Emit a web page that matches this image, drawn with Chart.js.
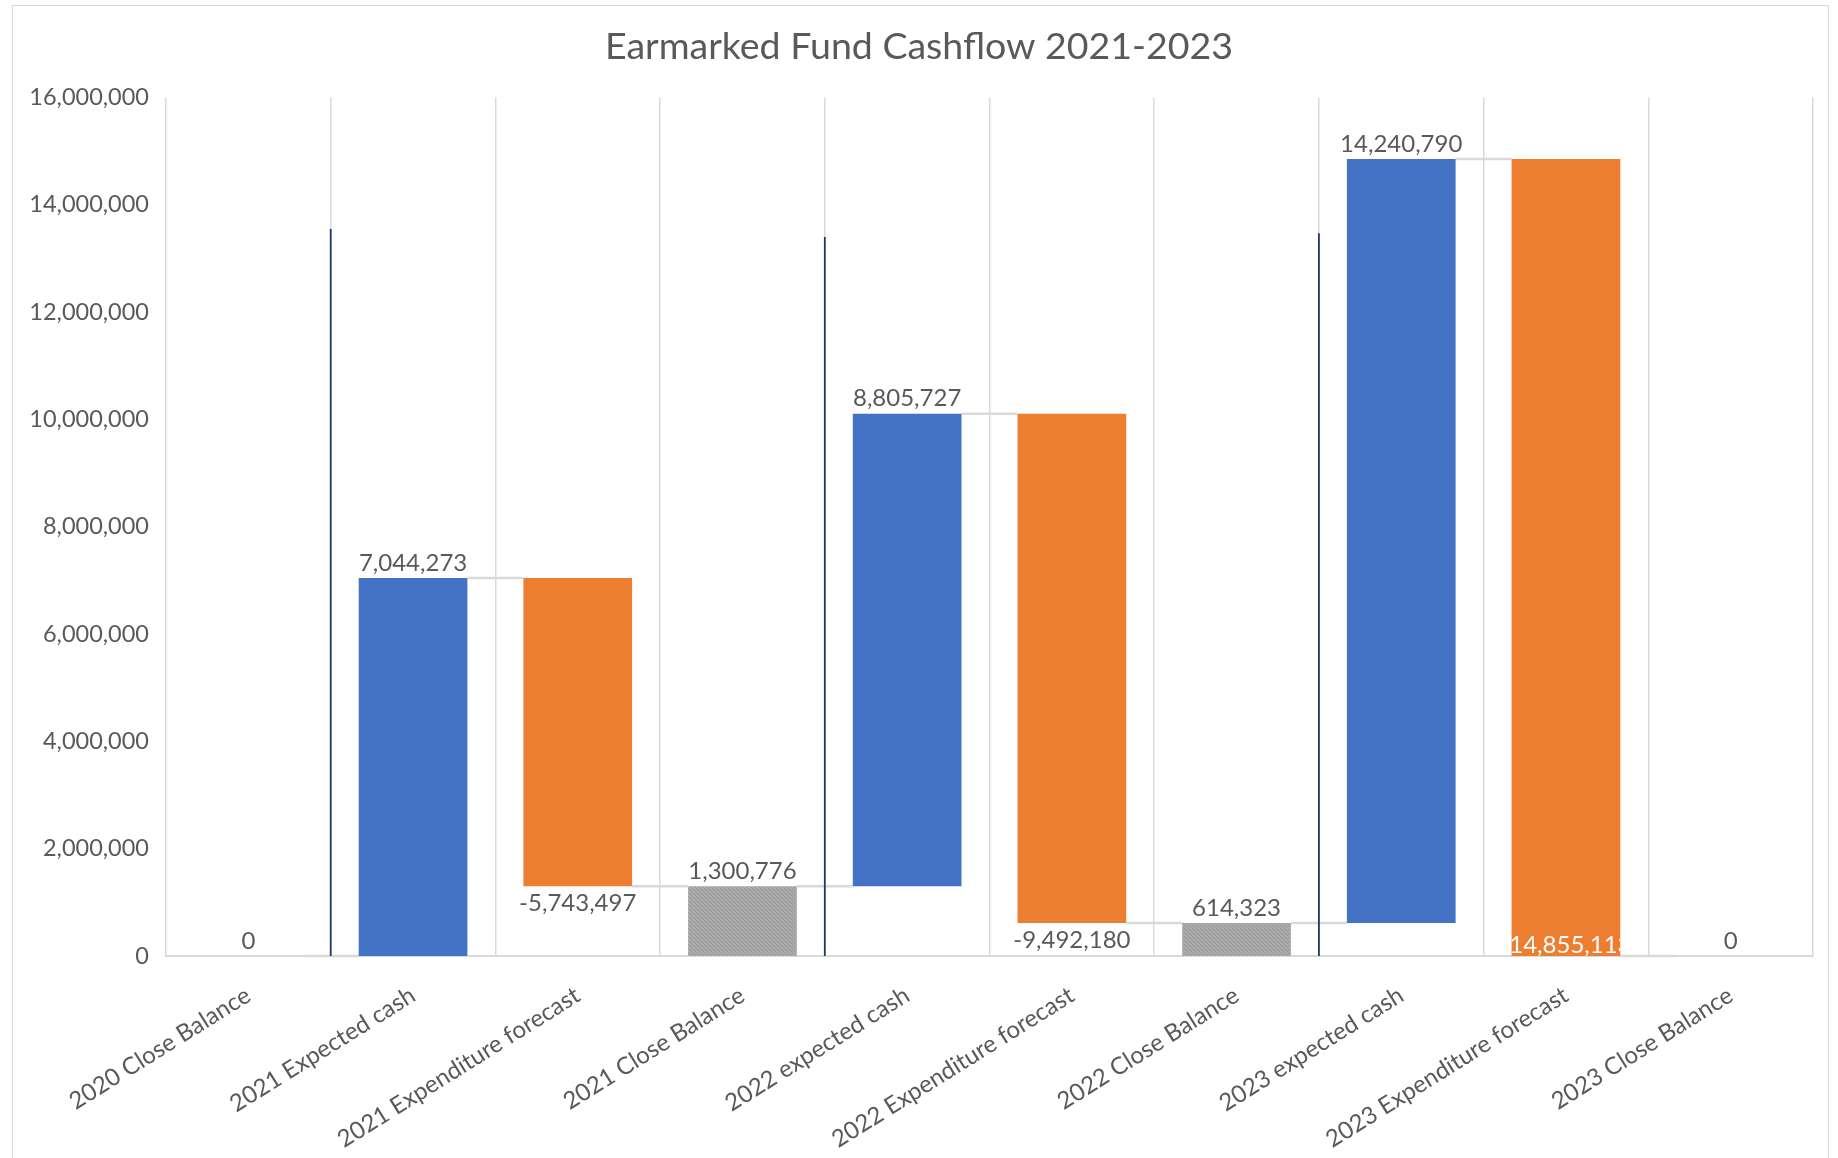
<!DOCTYPE html>
<html>
<head>
<meta charset="utf-8">
<script src="https://cdn.jsdelivr.net/npm/chart.js@4"></script>
<style>
  html, body { margin: 0; padding: 0; background: #ffffff; overflow: hidden; }
  #wrap { position: relative; width: 1838px; height: 1158px; }
  #frame { position: absolute; left: 12px; top: 5px; width: 1817px; height: 1170px; border: 1.5px solid #D9D9D9; box-sizing: border-box; pointer-events: none; }
  canvas { position: absolute; left: 0; top: 0; }
</style>
</head>
<body>
<div id="wrap">
  <canvas id="c" width="1838" height="1158"></canvas>
  <div id="frame"></div>
</div>
<script>
// ---- data ----
const chartTitle = 'Earmarked Fund Cashflow 2021-2023';
const categories = [
  '2020 Close Balance', '2021 Expected cash', '2021 Expenditure forecast', '2021 Close Balance',
  '2022 expected cash', '2022 Expenditure forecast', '2022 Close Balance',
  '2023 expected cash', '2023 Expenditure forecast', '2023 Close Balance'
];
const amounts = [0, 7044273, -5743497, 1300776, 8805727, -9492180, 614323, 14240790, -14855113, 0];
const barTypes = ['total', 'increase', 'decrease', 'total', 'increase', 'decrease', 'total', 'increase', 'decrease', 'total'];
const yMin = 0;
const yMax = 16000000;
const yStep = 2000000;
// dark vertical divider lines: placed after category index, reaching up to value
const dividerAfter = [0, 3, 6];
const dividerTop = [13550000, 13400000, 13470000];

// ---- derived floating ranges (waterfall) ----
let running = 0;
const ranges = amounts.map((v, i) => {
  if (barTypes[i] === 'total') { running = v; return [0, v]; }
  const start = running; running += v; return [start, running];
});
const levels = ranges.map(r => r[1]);

const colorFor = { increase: '#4472C4', decrease: '#ED7D31', total: '#A5A5A5' };
const textColor = '#595959';
const FONT = 'Lato, "Open Sans", sans-serif';

function grayPattern() {
  const pc = document.createElement('canvas');
  pc.width = 4; pc.height = 4;
  const g = pc.getContext('2d');
  g.fillStyle = '#A6A6A6'; g.fillRect(0, 0, 4, 4);
  g.fillStyle = '#9C9C9C';
  g.fillRect(0, 0, 1, 1); g.fillRect(2, 1, 1, 1); g.fillRect(1, 2, 1, 1); g.fillRect(3, 3, 1, 1);
  g.fillStyle = '#B0B0B0';
  g.fillRect(2, 0, 1, 1); g.fillRect(0, 3, 1, 1); g.fillRect(3, 1, 1, 1); g.fillRect(1, 3, 1, 1);
  return document.getElementById('c').getContext('2d').createPattern(pc, 'repeat');
}
const pat = grayPattern();
const barColors = barTypes.map(t => t === 'total' ? pat : colorFor[t]);

const fmt = v => v.toLocaleString('en-US');

const waterfallPlugin = {
  id: 'waterfall',
  beforeDatasetsDraw(chart) {
    const { ctx, scales: { x, y } } = chart;
    const bars = chart.getDatasetMeta(0).data;
    ctx.save();
    // connectors
    ctx.strokeStyle = '#D9D9D9';
    ctx.lineWidth = 2.5;
    for (let i = 0; i < bars.length - 1; i++) {
      const py = y.getPixelForValue(levels[i]);
      const x1 = bars[i].x + bars[i].width / 2;
      const x2 = bars[i + 1].x - bars[i + 1].width / 2;
      ctx.beginPath(); ctx.moveTo(x1, py); ctx.lineTo(x2, py); ctx.stroke();
    }
    // dark dividers
    ctx.strokeStyle = '#1F3864';
    ctx.lineWidth = 1.8;
    dividerAfter.forEach((idx, k) => {
      const px = (x.getPixelForValue(idx) + x.getPixelForValue(idx + 1)) / 2;
      ctx.beginPath();
      ctx.moveTo(px, y.getPixelForValue(0));
      ctx.lineTo(px, y.getPixelForValue(dividerTop[k]));
      ctx.stroke();
    });
    ctx.restore();
  },
  afterDatasetsDraw(chart) {
    const { ctx, scales: { y } } = chart;
    const bars = chart.getDatasetMeta(0).data;
    ctx.save();
    ctx.font = '24px ' + FONT;
    ctx.textAlign = 'center';
    const zeroPx = y.getPixelForValue(0);
    bars.forEach((b, i) => {
      const top = Math.min(b.y, b.base);
      const bottom = Math.max(b.y, b.base);
      const txt = fmt(amounts[i]);
      if (barTypes[i] === 'decrease') {
        if (Math.abs(bottom - zeroPx) < 2) {
          // inside, at bottom, white, clipped to the bar
          ctx.save();
          ctx.beginPath();
          ctx.rect(b.x - b.width / 2, top, b.width, bottom - top);
          ctx.clip();
          ctx.fillStyle = '#FFFFFF';
          ctx.textBaseline = 'bottom';
          ctx.fillText(txt, b.x, bottom + 1);
          ctx.restore();
        } else {
          ctx.fillStyle = textColor;
          ctx.textBaseline = 'top';
          ctx.fillText(txt, b.x, bottom + 5);
        }
      } else {
        ctx.fillStyle = textColor;
        ctx.textBaseline = 'bottom';
        ctx.fillText(txt, b.x, top - 3);
      }
    });
    ctx.restore();
  }
};

new Chart(document.getElementById('c'), {
  type: 'bar',
  data: {
    labels: categories,
    datasets: [{
      data: ranges,
      backgroundColor: barColors,
      borderWidth: 0,
      barPercentage: 0.66,
      categoryPercentage: 1.0
    }]
  },
  options: {
    responsive: false,
    animation: false,
    devicePixelRatio: 1,
    layout: { padding: { left: 25, right: 25, top: 0, bottom: 0 } },
    plugins: {
      legend: { display: false },
      tooltip: { enabled: false },
      title: {
        display: true,
        text: chartTitle,
        color: textColor,
        font: { family: FONT, size: 37.5, weight: 'normal', lineHeight: 1.2 },
        padding: { top: 24, bottom: 28.5 }
      }
    },
    scales: {
      x: {
        grid: { display: true, color: '#D9D9D9', lineWidth: 1.5, offset: true, drawTicks: false },
        border: { display: true, color: '#D9D9D9', width: 2 },
        ticks: {
          color: textColor,
          font: { family: FONT, size: 24 },
          minRotation: 32, maxRotation: 32,
          autoSkip: false,
          padding: 25
        },
        afterFit(scale) { scale.height = 202; }
      },
      y: {
        min: yMin, max: yMax,
        grid: { display: false, drawTicks: false },
        border: { display: false },
        ticks: {
          stepSize: yStep,
          color: textColor,
          font: { family: FONT, size: 23.5 },
          padding: 17,
          callback: v => fmt(v)
        },
        afterFit(scale) { scale.width = 141; }
      }
    }
  },
  plugins: [waterfallPlugin]
});
</script>
</body>
</html>
